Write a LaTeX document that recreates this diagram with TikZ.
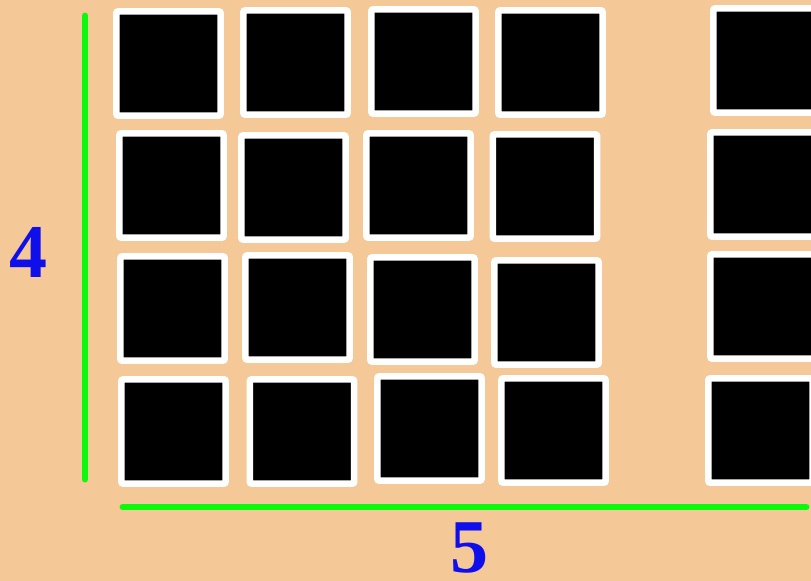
\documentclass[tikz,border=0pt]{standalone}
\usepackage{fontspec}
\usepackage{xcolor}
\setmainfont{Liberation Serif}
\usetikzlibrary{positioning}

\definecolor{peach}{RGB}{245,200,152}
\definecolor{axisgreen}{RGB}{12,248,12}
\definecolor{numblue}{RGB}{15,15,235}

\tikzset{
    tile/.style={draw=white, fill=black, line width=5pt, minimum size=78.2pt,
                 inner sep=0pt, rounded corners=1.5pt},
    axis/.style={axisgreen, line width=5.2pt, line cap=round},
    count/.style={text=numblue, font=\fontsize{57}{60}\selectfont\bfseries, inner sep=0pt}
}

\begin{document}
\begin{tikzpicture}[x=0.75pt, y=-0.75pt]
                % Canvas
                \clip (0,0) rectangle (811,581);
                \fill[peach] (0,0) rectangle (811,581);

                % Tiles, row by row
                \foreach \cx/\cy [count=\i] in {168.5/63.5, 295.5/62.5, 423.5/61.5, 550.5/62.5, 765.5/60.5}
                    \node[tile] (tile-1-\i) at (\cx,\cy) {};
                \foreach \cx/\cy [count=\i] in {171.5/185.5, 293.5/187.5, 418.5/185.5, 545/186.5, 762.5/184.5}
                    \node[tile] (tile-2-\i) at (\cx,\cy) {};
                \foreach \cx/\cy [count=\i] in {172.5/308.5, 297.5/307.5, 422.5/309.5, 546.5/312.5, 762.5/306.5}
                    \node[tile] (tile-3-\i) at (\cx,\cy) {};
                \foreach \cx/\cy [count=\i] in {173.5/431.5, 302/431.5, 429.5/428.5, 553.5/430.5, 760.5/430.5}
                    \node[tile] (tile-4-\i) at (\cx,\cy) {};

                % Side lengths
                \coordinate (rows-top) at (85,16);
                \coordinate (rows-bot) at (85,479);
                \coordinate (cols-left) at (123,507);
                \coordinate (cols-right) at (806,507);
                \draw[axis] (rows-top) -- (rows-bot);
                \draw[axis] (cols-left) -- (cols-right);

                \node[count] (rows-num) at (29,252) {4};
                \node[count] (cols-num) at (469,548) {5};
            \end{tikzpicture}
\end{document}
